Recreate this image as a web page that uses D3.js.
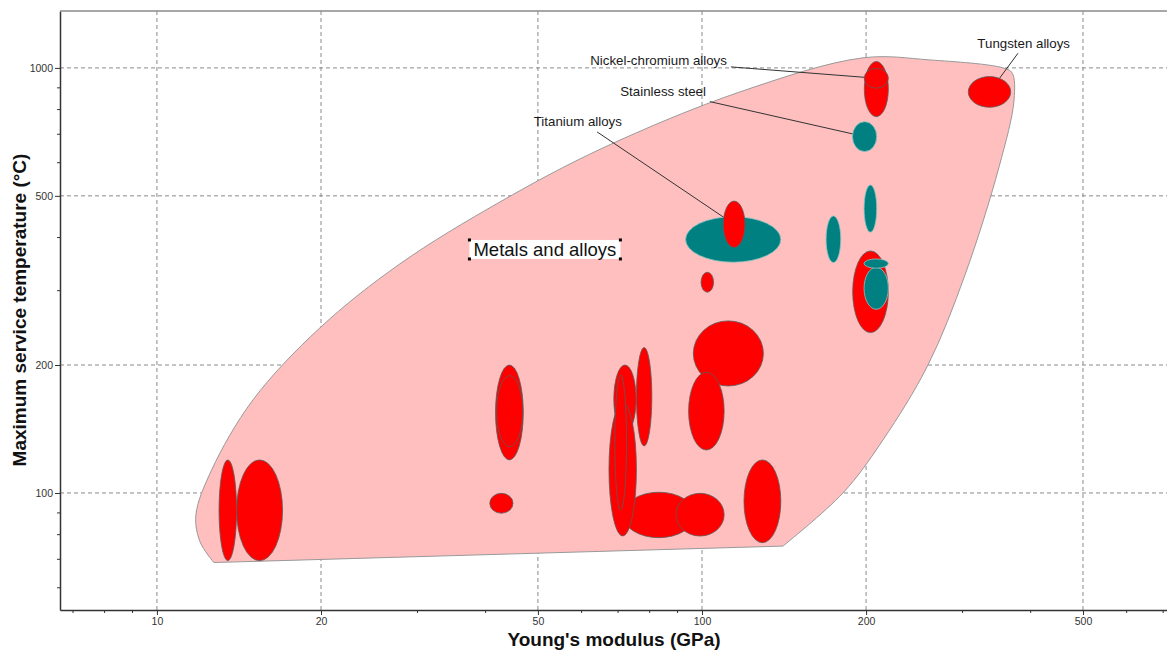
<!DOCTYPE html>
<html>
<head>
<meta charset="utf-8">
<script src="https://cdn.jsdelivr.net/npm/d3@7"></script>
<style>
body { margin: 0; background: #fff; }
svg { display: block; font-family: "Liberation Sans", Arial, sans-serif; }
</style>
</head>
<body>
<div id="chart"></div>
<script>
// one bubble per material: Young's modulus range (GPa), max service temperature range (°C)
const modulusLow  = [13.0, 14.0, 41.8, 42.0, 40.8, 71.6, 89.6, 68.9, 67.5, 69.2, 75.8, 96.4, 94.5, 119.4, 99.6, 93.3, 109.4, 168.9, 198.3, 189.0, 198.3, 198.3, 188.8, 198.5, 198.5, 308.0];
const modulusHigh = [14.0, 17.0, 47.0, 46.9, 45.0, 97.0, 109.8, 75.7, 75.8, 72.7, 80.9, 129.6, 109.8, 139.5, 105.0, 139.5, 119.9, 179.7, 209.2, 219.7, 219.7, 219.7, 209.2, 219.7, 219.7, 368.4];
const tempLow     = [69.3, 69.3, 119.6, 128.5, 89.6, 78.5, 79.2, 138.4, 79.2, 91.2, 129.0, 178.5, 126.2, 76.4, 296.7, 349.0, 377.9, 348.3, 410.6, 238.4, 270.5, 337.9, 635.6, 768.0, 896.0, 808.0];
const tempHigh    = [119.6, 119.6, 200.0, 188.8, 99.8, 100.4, 99.8, 200.0, 162.8, 189.5, 219.8, 254.0, 192.3, 119.6, 330.6, 446.7, 486.0, 448.6, 530.5, 371.0, 339.6, 355.3, 747.4, 1035.0, 998.0, 954.0];
const group       = ["red", "red", "red", "red", "red", "red", "red", "red", "red", "red", "red", "red", "red", "red", "red",
                     "teal", "red", "teal", "teal", "red", "teal", "teal", "teal", "red", "red", "red"];

// envelope around the "Metals and alloys" family (starts at the lower right corner)
const envelopeE = [140.8, 181.4, 214.8, 259.8, 303.7, 350.7, 373.7, 370.6, 356.6, 262.0, 197.4,
                   117.4, 65.8, 42.6, 27.9, 19.9, 15.0, 12.6, 11.79, 12.0, 12.72];
const envelopeT = [75.0, 100.0, 133.3, 200.1, 325.8, 584.8, 841.2, 973.3, 1000.0, 1044.0, 1056.0,
                   878.1, 648.3, 483.9, 345.8, 244.5, 165.5, 113.3, 88.8, 76.7, 68.6];

// annotations
const labelText   = ["Nickel-chromium alloys", "Stainless steel", "Titanium alloys", "Tungsten alloys"];
const labelTarget = [24, 22, 16, 25];
const labelE      = [111.1, 101.7, 71.3, 473.3];
const labelT      = [1016.4, 860.7, 730.4, 1112.8];
const leaderE     = [113.0, 103.4, 64.2, 380.0];
const leaderT     = [1005.4, 833.0, 707.0, 1083.0];

const familyName = "Metals and alloys";
const familyE = 51.5, familyT = 374;

// axes
const xMajor = [10, 20, 50, 100, 200, 500];
const xMinor = [7, 8, 9, 30, 40, 60, 70, 80, 90, 300, 400, 600, 700];
const yMajor = [100, 200, 500, 1000];
const yMinor = [60, 70, 80, 90, 300, 400, 600, 700, 800, 900];

const width = 1167, height = 650;
const margin = {top: 11, right: 0, bottom: 40, left: 60};

const colors = {red: "#ff0000", teal: "#008080"};
const strokes = {red: "#5c5c5c", teal: "#8fc4c4"};

const svg = d3.select("#chart").append("svg")
    .attr("width", width)
    .attr("height", height);

const x = d3.scaleLog()
    .domain([6.64, 713])
    .range([margin.left, width - margin.right]);

const y = d3.scaleLog()
    .domain([53.05, 1361])
    .range([height - margin.bottom, margin.top]);

// grid
svg.append("g").selectAll("line")
    .data(xMajor)
    .join("line")
    .attr("x1", d => x(d)).attr("x2", d => x(d))
    .attr("y1", margin.top).attr("y2", height - margin.bottom)
    .attr("stroke", "#8a8a8a")
    .attr("stroke-dasharray", "4,3");

svg.append("g").selectAll("line")
    .data(yMajor)
    .join("line")
    .attr("x1", margin.left).attr("x2", width - margin.right)
    .attr("y1", d => y(d)).attr("y2", d => y(d))
    .attr("stroke", "#8a8a8a")
    .attr("stroke-dasharray", "4,3");

// envelope: curved round the top, straight along the bottom
const envPoints = envelopeE.map((e, i) => [x(e), y(envelopeT[i])]);
const envLine = d3.line().curve(d3.curveCatmullRom.alpha(0.5));
svg.append("path")
    .attr("d", envLine(envPoints) + "Z")
    .attr("fill", "#ffbfbf")
    .attr("stroke", "#999")
    .attr("stroke-width", 1);

const cx = i => (x(modulusLow[i]) + x(modulusHigh[i])) / 2;
const cy = i => (y(tempLow[i]) + y(tempHigh[i])) / 2;

// leader lines go under the bubbles
svg.append("g").selectAll("line")
    .data(labelText)
    .join("line")
    .attr("x1", (d, i) => x(leaderE[i]))
    .attr("y1", (d, i) => y(leaderT[i]))
    .attr("x2", (d, i) => cx(labelTarget[i]))
    .attr("y2", (d, i) => cy(labelTarget[i]))
    .attr("stroke", "#333")
    .attr("stroke-width", 1);

svg.append("g").selectAll("ellipse")
    .data(d3.range(modulusLow.length))
    .join("ellipse")
    .attr("cx", i => cx(i))
    .attr("cy", i => cy(i))
    .attr("rx", i => (x(modulusHigh[i]) - x(modulusLow[i])) / 2)
    .attr("ry", i => (y(tempLow[i]) - y(tempHigh[i])) / 2)
    .attr("fill", i => colors[group[i]])
    .attr("stroke", i => strokes[group[i]])
    .attr("stroke-width", 0.8);

svg.append("g").selectAll("text")
    .data(labelText)
    .join("text")
    .attr("x", (d, i) => x(labelE[i]))
    .attr("y", (d, i) => y(labelT[i]))
    .attr("text-anchor", "end")
    .attr("font-size", "13.3px")
    .attr("fill", "#1a1a1a")
    .text(d => d);

// family label with white box and handles
const fam = svg.append("g");
const famText = fam.append("text")
    .attr("x", x(familyE))
    .attr("y", y(familyT))
    .attr("text-anchor", "middle")
    .attr("dominant-baseline", "central")
    .attr("font-size", "18.5px")
    .attr("fill", "#111")
    .text(familyName);
const bb = famText.node().getBBox();
const box = {x0: bb.x - 4, y0: bb.y + 1, x1: bb.x + bb.width + 4, y1: bb.y + bb.height - 1};
fam.insert("rect", "text")
    .attr("x", box.x0).attr("y", box.y0)
    .attr("width", box.x1 - box.x0).attr("height", box.y1 - box.y0)
    .attr("fill", "#fff");
fam.selectAll("rect.handle")
    .data([[box.x0, box.y0], [box.x1, box.y0], [box.x0, box.y1], [box.x1, box.y1]])
    .join("rect")
    .attr("class", "handle")
    .attr("x", d => d[0] - 1.5).attr("y", d => d[1] - 1.5)
    .attr("width", 3).attr("height", 3)
    .attr("fill", "#000");

// axes
const fmt = d3.format("d");
const xAxis = svg.append("g")
    .attr("transform", `translate(0,${height - margin.bottom})`)
    .call(d3.axisBottom(x).tickValues(xMajor).tickFormat(fmt).tickSize(5).tickPadding(3).tickSizeOuter(0));
svg.append("g")
    .attr("transform", `translate(0,${height - margin.bottom})`)
    .call(d3.axisBottom(x).tickValues(xMinor).tickFormat("").tickSize(3))
    .call(g => g.select(".domain").remove());

const yAxis = svg.append("g")
    .attr("transform", `translate(${margin.left},0)`)
    .call(d3.axisLeft(y).tickValues(yMajor).tickFormat(fmt).tickSize(5).tickPadding(2).tickSizeOuter(0));
svg.append("g")
    .attr("transform", `translate(${margin.left},0)`)
    .call(d3.axisLeft(y).tickValues(yMinor).tickFormat("").tickSize(3))
    .call(g => g.select(".domain").remove());

svg.selectAll(".tick line").attr("stroke", "#333");
svg.selectAll(".tick text")
    .attr("font-family", "'Liberation Sans', Arial, sans-serif")
    .attr("font-size", "10.5px")
    .attr("fill", "#333");
[xAxis, yAxis].forEach(a => a.select(".domain").attr("stroke", "#333").attr("stroke-width", 1.5));

// top frame
svg.append("line")
    .attr("x1", margin.left).attr("x2", width)
    .attr("y1", margin.top).attr("y2", margin.top)
    .attr("stroke", "#8a8a8a")
    .attr("stroke-width", 1.5);

svg.append("text")
    .attr("x", 614)
    .attr("y", 646)
    .attr("text-anchor", "middle")
    .attr("font-size", "19px")
    .attr("font-weight", "bold")
    .attr("fill", "#111")
    .text("Young's modulus (GPa)");

svg.append("text")
    .attr("transform", "translate(26,310) rotate(-90)")
    .attr("text-anchor", "middle")
    .attr("font-size", "19px")
    .attr("font-weight", "bold")
    .attr("fill", "#111")
    .text("Maximum service temperature (°C)");
</script>
</body>
</html>
